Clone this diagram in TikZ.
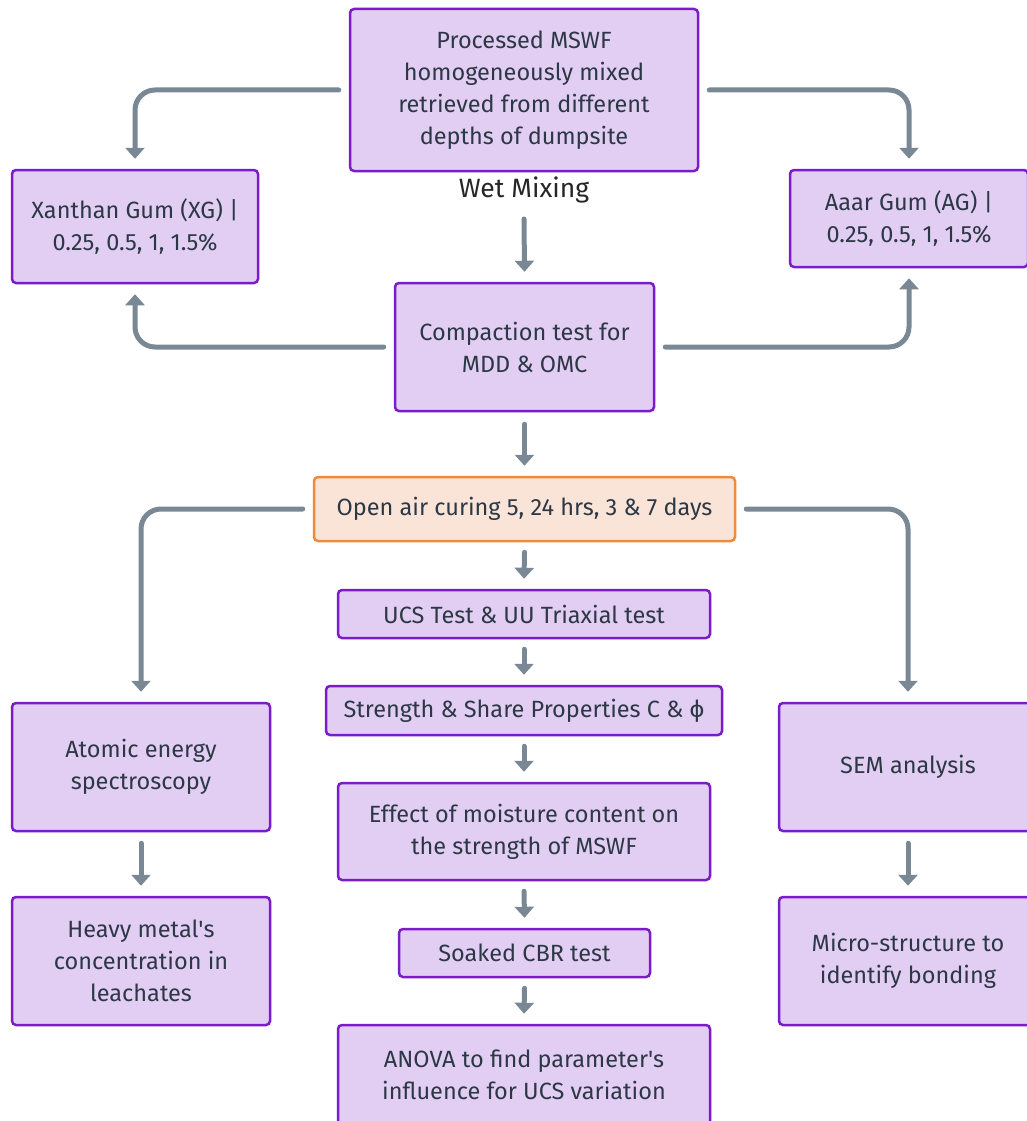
\documentclass[tikz,border=0pt]{standalone}
\usepackage{fontspec}
\setmainfont{Fira Sans}
\usetikzlibrary{arrows.meta}
\definecolor{boxfill}{HTML}{E2CEF3}
\definecolor{boxline}{HTML}{7A1CC9}
\definecolor{orfill}{HTML}{F9E4D7}
\definecolor{orline}{HTML}{EE8B3D}
\definecolor{arrcol}{HTML}{7A8895}
\definecolor{txt}{HTML}{2D3846}
\begin{document}
\begin{tikzpicture}[x=1pt,y=-1pt,
  box/.style={draw=boxline, fill=boxfill, line width=2.5pt, rounded corners=4pt, inner sep=0pt,
    align=center, text=txt, font=\fontsize{23.5}{32}\selectfont},
  obox/.style={box, draw=orline, fill=orfill},
  arr/.style={draw=arrcol, line width=5pt, line cap=round, rounded corners=20pt,
    -{Triangle[width=19pt,length=11pt]}}]
\useasboundingbox (0,0) rectangle (1027,1121);
\fill[white] (0,0) rectangle (1027,1121);

\node[box, minimum width=348pt, minimum height=162pt] (top) at (524,90)
  {Processed MSWF\\homogeneously mixed\\retrieved from different\\depths of dumpsite};
\node[font=\fontsize{26.5}{30}\selectfont, text=black!85] (wet) at (524,190) {Wet Mixing};
\node[box, minimum width=246pt, minimum height=113pt] (xg) at (135,226.5)
  {Xanthan Gum (XG) |\\0.25, 0.5, 1, 1.5\%};
\node[box, minimum width=238pt, minimum height=97pt] (ag) at (909,218.5)
  {Aaar Gum (AG) |\\0.25, 0.5, 1, 1.5\%};
\node[box, minimum width=259pt, minimum height=128pt] (comp) at (524.5,347)
  {Compaction test for\\MDD \& OMC};
\node[obox, minimum width=421pt, minimum height=64pt] (cure) at (524.5,509)
  {Open air curing 5, 24 hrs, 3 \& 7 days};
\node[box, minimum width=372pt, minimum height=48pt] (ucs) at (524,614)
  {UCS Test \& UU Triaxial test};
\node[box, minimum width=396pt, minimum height=49pt] (str) at (524,710.5)
  {Strength \& Share Properties C \& ϕ};
\node[box, minimum width=372pt, minimum height=97pt] (eff) at (524,831.5)
  {Effect of moisture content on\\the strength of MSWF};
\node[box, minimum width=251pt, minimum height=48pt] (soak) at (524.5,953)
  {Soaked CBR test};
\node[box, minimum width=372pt, minimum height=100pt] (anova) at (524,1075)
  {ANOVA to find parameter\textquotesingle s\\influence for UCS variation};
\node[box, minimum width=258pt, minimum height=128pt] (aes) at (141,767)
  {Atomic energy\\spectroscopy};
\node[box, minimum width=258pt, minimum height=128pt] (heavy) at (141,961)
  {Heavy metal\textquotesingle s\\concentration in\\leachates};
\node[box, minimum width=258pt, minimum height=128pt] (sem) at (908,767)
  {SEM analysis};
\node[box, minimum width=258pt, minimum height=128pt] (micro) at (908,961)
  {Micro-structure to\\identify bonding};

\draw[arr] ([xshift=-10pt]top.west) -| ([yshift=10pt]xg.north);
\draw[arr] ([xshift=10pt]top.east) -| ([yshift=10pt]ag.north);
\draw[arr] ([yshift=-29pt]wet.center) -- ([yshift=10pt]comp.north);
\draw[arr] ([xshift=-10pt]comp.west) -| ([yshift=-10pt]xg.south);
\draw[arr] ([xshift=10pt]comp.east) -| ([yshift=-10pt]ag.south);
\draw[arr] ([yshift=-12pt]comp.south) -- ([yshift=10pt]cure.north);
\draw[arr] ([xshift=-10pt]cure.west) -| ([yshift=10pt]aes.north);
\draw[arr] ([xshift=10pt]cure.east) -| ([yshift=10pt]sem.north);
\draw[arr] ([yshift=-10pt]cure.south) -- ([yshift=10pt]ucs.north);
\draw[arr] ([yshift=-10pt]ucs.south) -- ([yshift=10pt]str.north);
\draw[arr] ([yshift=-10pt]str.south) -- ([yshift=10pt]eff.north);
\draw[arr] ([yshift=-10pt]eff.south) -- ([yshift=10pt]soak.north);
\draw[arr] ([yshift=-10pt]soak.south) -- ([yshift=10pt]anova.north);
\draw[arr] ([yshift=-11pt]aes.south) -- ([yshift=10pt]heavy.north);
\draw[arr] ([yshift=-11pt]sem.south) -- ([yshift=10pt]micro.north);
\end{tikzpicture}
\end{document}
